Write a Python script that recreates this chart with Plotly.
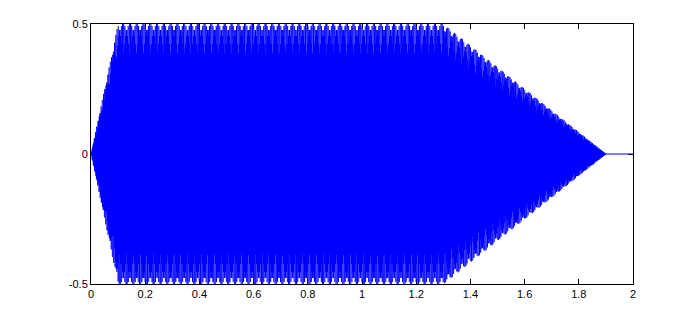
import numpy as np
import plotly.graph_objects as go

# Envelope breakpoints (seconds, amplitude)
env_t = [0.0, 0.1, 1.3, 1.9, 2.0]
env_a = [0.0, 0.5, 0.5, 0.0, 0.0]
# Carrier tone and sampling rate
carrier_hz = 440.0
sample_rate = 2000.0

x_ticks = [0, 0.2, 0.4, 0.6, 0.8, 1.0, 1.2, 1.4, 1.6, 1.8, 2.0]
x_tick_text = ["0", "0.2", "0.4", "0.6", "0.8", "1", "1.2", "1.4", "1.6", "1.8", "2"]
y_ticks = [-0.5, 0, 0.5]
y_tick_text = ["-0.5", "0", "0.5"]

t = np.arange(0, 2.0 + 1e-9, 1.0 / sample_rate)
env = np.interp(t, env_t, env_a)
y = env * np.sin(2 * np.pi * carrier_hz * t)

fig = go.Figure()
fig.add_trace(go.Scattergl(x=t, y=y, mode="lines",
                           line=dict(color="#0000ff", width=1), hoverinfo="skip"))

axis_common = dict(showline=True, linecolor="black", linewidth=1, mirror="ticks",
                   ticks="inside", ticklen=5, tickcolor="black", showgrid=False,
                   zeroline=False, tickfont=dict(family="Liberation Sans, Arial", size=11, color="black"))
fig.update_xaxes(range=[0, 2], tickvals=x_ticks, ticktext=x_tick_text, **axis_common)
fig.update_yaxes(range=[-0.5, 0.5], tickvals=y_ticks, ticktext=y_tick_text, **axis_common)

fig.update_layout(width=700, height=320, margin=dict(l=91, r=67, t=24, b=36),
                  paper_bgcolor="white", plot_bgcolor="white", showlegend=False)
fig.write_html("out.html")
